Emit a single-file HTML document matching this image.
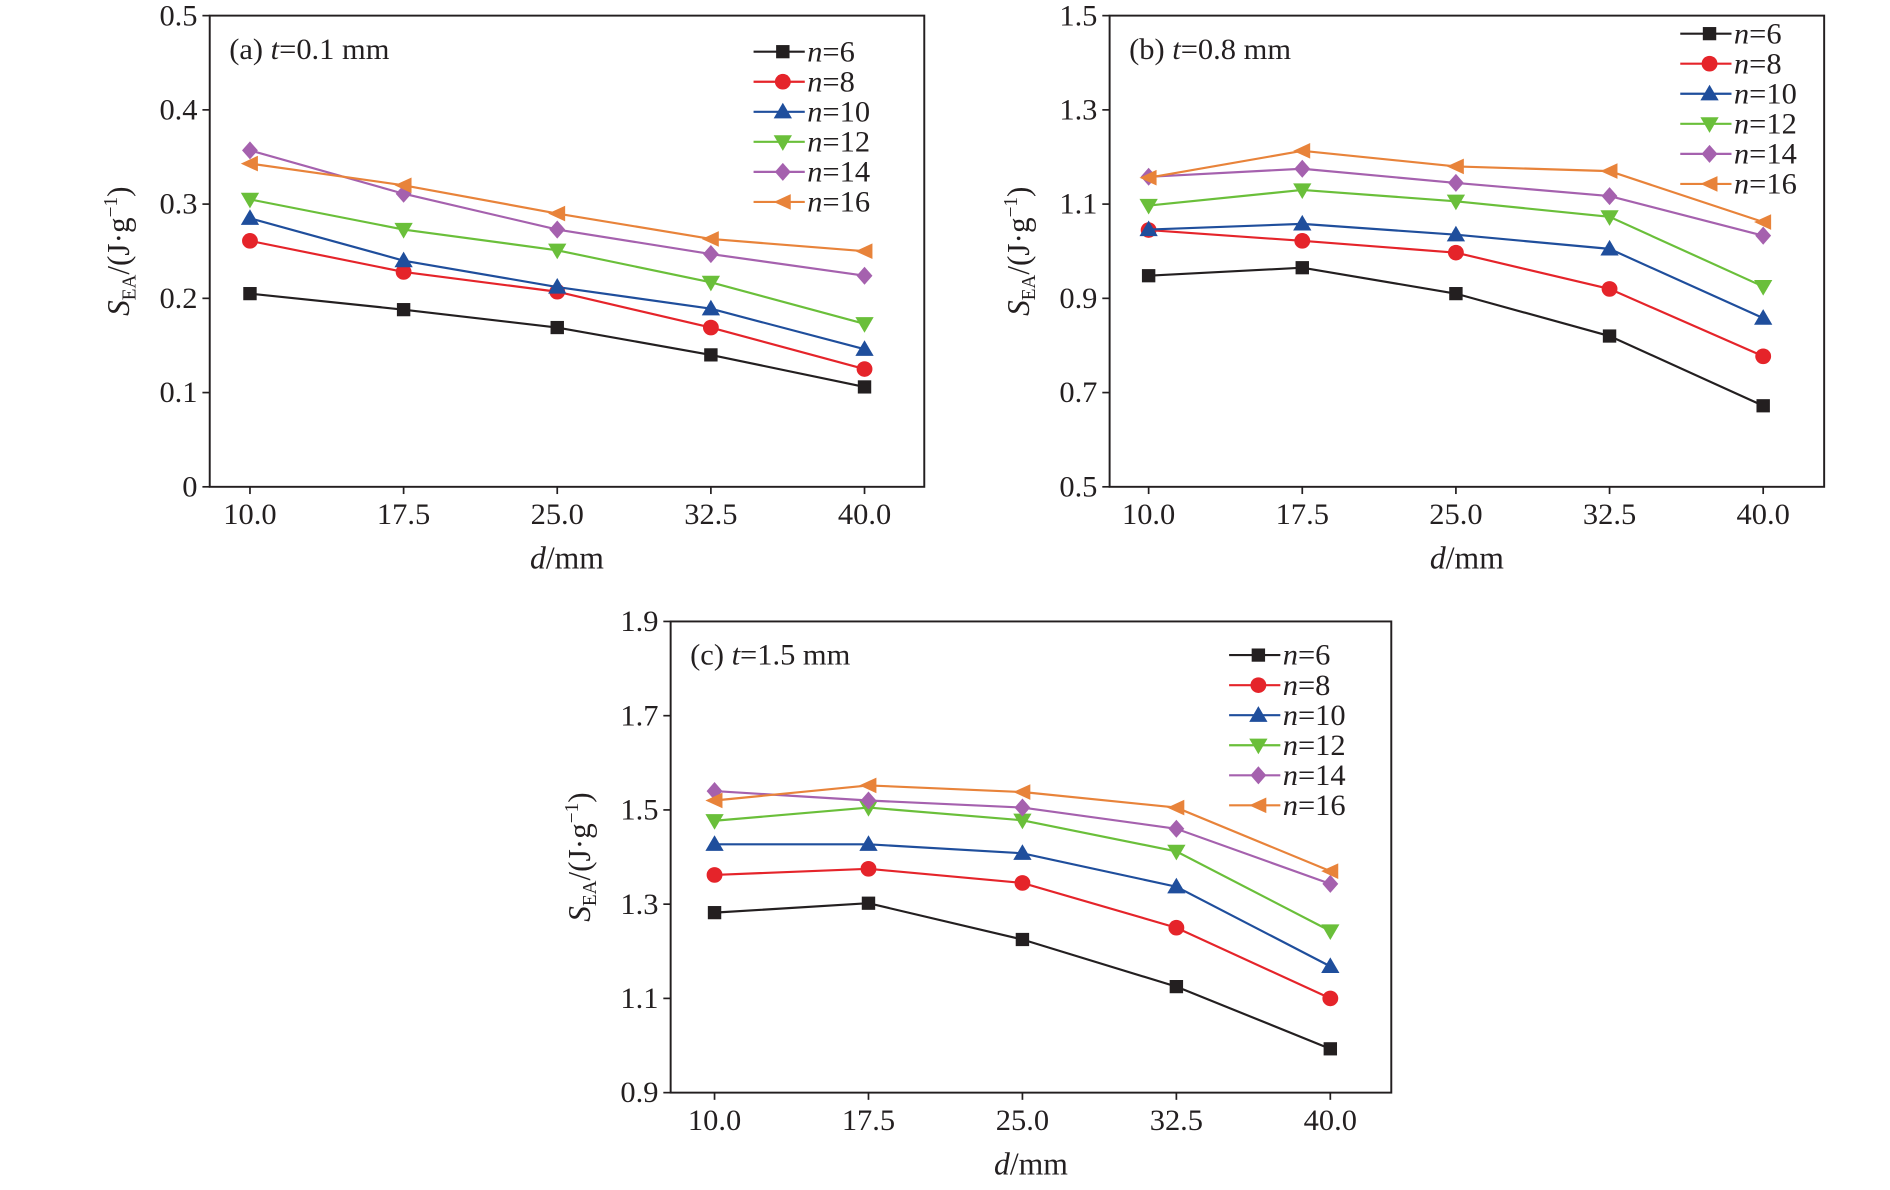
<!DOCTYPE html>
<html><head><meta charset="utf-8"><style>
html,body{margin:0;padding:0;background:#fff;}
svg{display:block;font-family:"Liberation Serif",serif;}
</style></head><body>
<svg id="fig" width="1890" height="1190" viewBox="0 0 1550 990" preserveAspectRatio="none"></svg>
<script>
const categories = [10.0, 17.5, 25.0, 32.5, 40.0];
const xTickLabels = ["10.0","17.5","25.0","32.5","40.0"];
const seriesNames = ["6","8","10","12","14","16"];
const aN6 = [0.205,0.188,0.169,0.140,0.106];
const aN8 = [0.261,0.228,0.207,0.169,0.125];
const aN10 = [0.285,0.240,0.212,0.189,0.146];
const aN12 = [0.305,0.273,0.251,0.217,0.173];
const aN14 = [0.357,0.311,0.273,0.247,0.224];
const aN16 = [0.343,0.320,0.290,0.263,0.250];
const bN6 = [0.948,0.965,0.910,0.820,0.672];
const bN8 = [1.045,1.022,0.997,0.920,0.777];
const bN10 = [1.046,1.058,1.035,1.005,0.858];
const bN12 = [1.097,1.130,1.106,1.073,0.925];
const bN14 = [1.158,1.175,1.145,1.117,1.033];
const bN16 = [1.156,1.213,1.180,1.170,1.062];
const cN6 = [1.282,1.302,1.225,1.125,0.993];
const cN8 = [1.362,1.375,1.345,1.250,1.100];
const cN10 = [1.427,1.427,1.408,1.337,1.168];
const cN12 = [1.477,1.505,1.478,1.412,1.243];
const cN14 = [1.540,1.520,1.505,1.460,1.343];
const cN16 = [1.520,1.552,1.538,1.505,1.370];
const aYTicks = ["0","0.1","0.2","0.3","0.4","0.5"];
const bYTicks = ["0.5","0.7","0.9","1.1","1.3","1.5"];
const cYTicks = ["0.9","1.1","1.3","1.5","1.7","1.9"];

const NS="http://www.w3.org/2000/svg";
const svg=document.getElementById('fig');
const colors=["#231f20","#e5242a","#1f4e9c","#6abf3a","#a561ae","#e8833a"];
const markers=["square","circle","up","down","diamond","left"];
function mk(tag,attrs,parent){const e=document.createElementNS(NS,tag);for(const k in attrs)e.setAttribute(k,attrs[k]);(parent||svg).appendChild(e);return e;}
function marker(g,type,x,y,c){
  const s=6.5;let e;
  if(type==="square")e=mk('rect',{x:x-s+1,y:y-s+1,width:2*s-2,height:2*s-2,fill:c},g);
  else if(type==="circle")e=mk('circle',{cx:x,cy:y,r:s,fill:c},g);
  else{let p;
    if(type==="up")p=[[x,y-s-1],[x+s+1,y+s-1],[x-s-1,y+s-1]];
    else if(type==="down")p=[[x,y+s+1],[x+s+1,y-s+1],[x-s-1,y-s+1]];
    else if(type==="diamond")p=[[x,y-s-1],[x+s,y],[x,y+s+1],[x-s,y]];
    else p=[[x-s-1,y],[x+s,y-s],[x+s,y+s]];
    e=mk('polygon',{points:p.map(q=>q.join(',')).join(' '),fill:c},g);}
  
  
}
function panel(id,box,ymin,ymax,yTicks,series,title,legX,legY){
  const g=mk('g',{});
  
  
  const {x0,x1,y0,y1,c0,c1}=box;
  const sx=v=>c0+(v-categories[0])/(categories[categories.length-1]-categories[0])*(c1-c0);
  const sy=v=>y1-(v-ymin)/(ymax-ymin)*(y1-y0);
  const frame=mk('rect',{x:x0,y:y0,width:x1-x0,height:y1-y0,fill:'none',stroke:'#231f20','stroke-width':1.6},g);
  
  
  yTicks.forEach(t=>{const v=parseFloat(t),y=sy(v);
    mk('line',{x1:x0-6,x2:x0,y1:y,y2:y,stroke:'#231f20','stroke-width':1.4},g);
    const tx=mk('text',{x:x0-10,y:y+8,'text-anchor':'end','font-size':25,fill:'#231f20'},g);tx.textContent=t;
    
    });
  categories.forEach((c,i)=>{const x=sx(c);
    mk('line',{x1:x,x2:x,y1:y1,y2:y1+6,stroke:'#231f20','stroke-width':1.4},g);
    const tx=mk('text',{x:x,y:y1+31,'text-anchor':'middle','font-size':25,fill:'#231f20'},g);tx.textContent=xTickLabels[i];
    
    });
  const xl=mk('text',{x:(x0+x1)/2,y:y1+68,'text-anchor':'middle','font-size':26,fill:'#231f20'},g);
  xl.innerHTML='<tspan font-style="italic">d</tspan>/mm';
  
  
  const yc=(y0+y1)/2, yx=x0-66;
  const yl=mk('text',{x:yx,y:yc,'text-anchor':'middle','font-size':26,fill:'#231f20',transform:`rotate(-90 ${yx} ${yc})`},g);
  yl.innerHTML='<tspan font-style="italic">S</tspan><tspan font-size="16" dy="5">EA</tspan><tspan dy="-5">/(J·g</tspan><tspan font-size="16" dy="-10">−1</tspan><tspan dy="10">)</tspan>';
  
  
  const tt=mk('text',{x:x0+16,y:y0+36,'font-size':25,fill:'#231f20'},g);
  tt.innerHTML=title;
  
  
  series.forEach((vals,si)=>{
    const pts=vals.map((v,i)=>sx(categories[i])+','+sy(v)).join(' ');
    const pl=mk('polyline',{points:pts,fill:'none',stroke:colors[si],'stroke-width':1.8},g);
    
    
    vals.forEach((v,i)=>marker(g,markers[si],sx(categories[i]),sy(v),colors[si]));
  });
  seriesNames.forEach((n,si)=>{
    const ly=legY+si*25;
    const lg=mk('g',{},g);
    
    
    mk('line',{x1:legX,x2:legX+42,y1:ly,y2:ly,stroke:colors[si],'stroke-width':1.8},lg);
    marker(lg,markers[si],legX+24,ly,colors[si]);
    const t=mk('text',{x:legX+44,y:ly+8,'font-size':25,fill:'#231f20'},lg);
    t.innerHTML='<tspan font-style="italic">n</tspan>='+n;
  });
}
panel('a',{x0:172,x1:758,y0:13,y1:405,c0:205,c1:709},0,0.5,aYTicks,[aN6,aN8,aN10,aN12,aN14,aN16],'(a) <tspan font-style="italic">t</tspan>=0.1 mm',618,43);
panel('b',{x0:910,x1:1496,y0:13,y1:405,c0:942,c1:1446},0.5,1.5,bYTicks,[bN6,bN8,bN10,bN12,bN14,bN16],'(b) <tspan font-style="italic">t</tspan>=0.8 mm',1378,28);
panel('c',{x0:550,x1:1141,y0:517,y1:909,c0:586,c1:1091},0.9,1.9,cYTicks,[cN6,cN8,cN10,cN12,cN14,cN16],'(c) <tspan font-style="italic">t</tspan>=1.5 mm',1008,545);
</script>
</body></html>
